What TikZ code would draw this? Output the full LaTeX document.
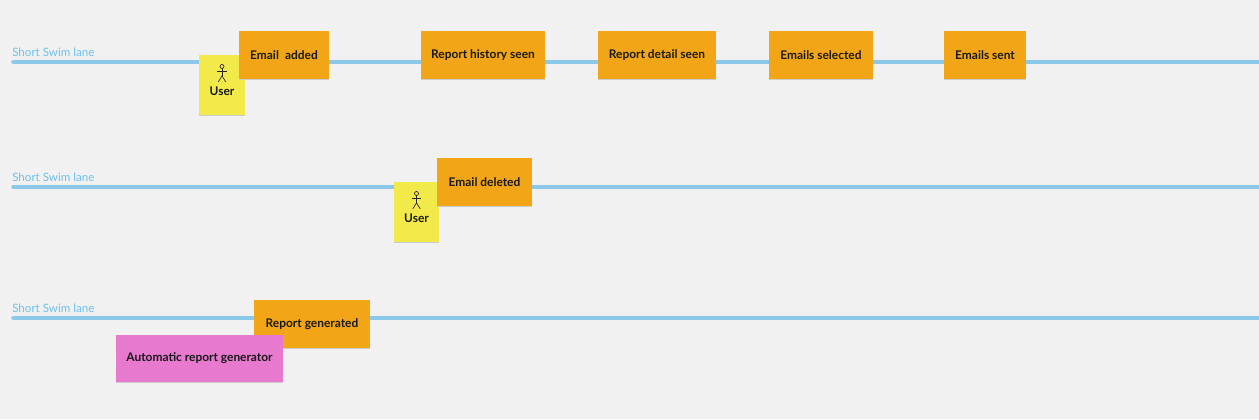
\documentclass[tikz,border=0pt]{standalone}
\usepackage{fontspec}
\setmainfont{Lato}
\usetikzlibrary{shadows}
\definecolor{paper}{HTML}{F1F1F1}
\definecolor{lanecol}{HTML}{8CC8EC}
\definecolor{lanetext}{HTML}{6FC0EE}
\definecolor{eventcol}{HTML}{F2A516}
\definecolor{actorcol}{HTML}{F2E94B}
\definecolor{systemcol}{HTML}{E779CF}
\begin{document}
\begin{tikzpicture}[x=0.75pt,y=-0.75pt]

\tikzset{note/.style = {shape=rectangle,inner sep=0pt,minimum height=35.5pt,font=\fontsize{8.95}{10}\bfseries,text=black!90,
  general shadow={fill=black!20,shadow xshift=0pt,shadow yshift=-0.9pt}}}
\tikzset{event/.style = {note,fill=eventcol}}
\tikzset{system/.style = {note,fill=systemcol}}
\tikzset{actor/.style = {note,fill=actorcol,minimum width=34pt,minimum height=45pt}}
\tikzset{lane/.style = {draw=lanecol,line width=2.6pt,line cap=round}}
\tikzset{lanename/.style = {anchor=base west,inner sep=0pt,text=lanetext,font=\fontsize{8.7}{10}\selectfont}}
\tikzset{figure/.style = {draw=black!85,line width=0.5pt}}

\useasboundingbox[fill=paper] (0,0) rectangle (1259,419);
%lanes
\coordinate (start1) at (13,62);
\coordinate (end1) at (1262,62);
\coordinate (start2) at (13,187);
\coordinate (end2) at (1262,187);
\coordinate (start3) at (13,318);
\coordinate (end3) at (1262,318);
\draw [lane] (start1) -- (end1);
\draw [lane] (start2) -- (end2);
\draw [lane] (start3) -- (end3);
\node[lanename] (name1) at (12,56) {Short Swim lane};
\node[lanename] (name2) at (12,181) {Short Swim lane};
\node[lanename] (name3) at (12,312) {Short Swim lane};
%actors
\node[actor] (user1) at (222,85) {\smash{\raisebox{-7.5pt}{User}}};
\node[actor] (user2) at (416.5,212) {\smash{\raisebox{-7.5pt}{User}}};
\foreach \u in {user1,user2} {
  \draw [figure] ([yshift=13.9pt]\u.center) circle (1.5pt);
  \draw [figure] ([yshift=12.4pt]\u.center) -- ([yshift=6.8pt]\u.center);
  \draw [figure] ([xshift=-3.4pt,yshift=10.6pt]\u.center) -- ([xshift=3.4pt,yshift=10.6pt]\u.center);
  \draw [figure] ([xshift=-2.8pt,yshift=2.4pt]\u.center) -- ([yshift=6.8pt]\u.center) -- ([xshift=2.8pt,yshift=2.4pt]\u.center);
}
%events
\node[event, minimum width=67.5pt] (added) at (284,55) {Email\hspace{2.4pt} added};
\node[event, minimum width=93pt] (history) at (483,55) {Report history seen};
\node[event, minimum width=88.5pt] (detail) at (657,55) {Report detail seen};
\node[event, minimum width=78pt] (selected) at (821,55) {Emails selected};
\node[event, minimum width=61.5pt] (sent) at (985,55) {Emails sent};
\node[event, minimum width=71.25pt] (deleted) at (484.5,182) {Email deleted};
\node[event, minimum width=87pt] (generated) at (312,324) {Report generated};
\node[system, minimum width=125.25pt] (generator) at (199.5,358.5) {Automatic report generator};

\end{tikzpicture}
\end{document}
